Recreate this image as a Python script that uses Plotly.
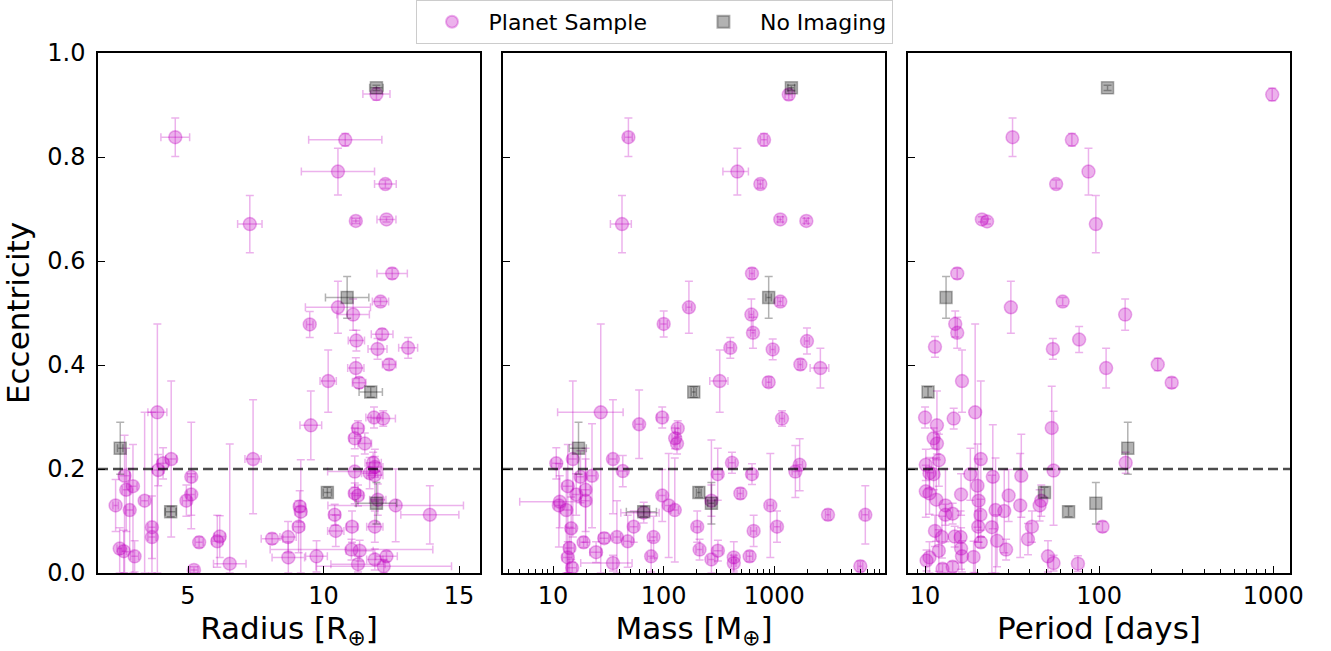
import plotly.graph_objects as go

# ---------------- Radius panel: Planet Sample ----------------
rad_vals = [11.95, 4.53, 10.80, 10.53, 12.28, 7.28, 11.19, 12.32, 12.53, 10.53,
            12.10, 11.09, 9.49, 12.16, 11.21, 11.99, 13.12, 12.42, 11.19, 10.17,
            11.31, 3.87, 11.86, 12.20, 9.53, 11.27, 11.15, 11.52, 2.66, 4.38,
            4.08, 3.90, 7.40, 5.12, 11.83, 11.89, 11.15, 11.70, 11.89, 2.97,
            2.72, 2.85, 2.33, 3.40, 5.12, 4.94, 11.15, 11.27, 12.00, 12.66,
            13.92, 9.12, 9.16, 10.41, 9.08, 11.05, 11.89, 10.45, 3.67, 3.67,
            5.41, 6.08, 6.17, 8.10, 8.69, 2.48, 2.63, 3.03, 11.03, 11.33,
            8.70, 9.74, 12.32, 6.54, 11.27, 11.89, 12.22, 5.22]
rad_errs = [0.5, 0.53, 1.35, 1.35, 0.40, 0.45, 0.15, 0.35, 0.56, 1.20,
            0.30, 0.60, 0.12, 0.40, 0.30, 0.35, 0.35, 0.25, 0.30, 0.30,
            0.25, 0.35, 0.30, 0.45, 0.40, 0.20, 0.20, 0.25, 0.20, 0.20,
            0.20, 0.20, 0.30, 0.15, 0.30, 0.30, 1.00, 0.30, 0.30, 0.15,
            0.15, 0.15, 0.10, 0.15, 0.15, 0.15, 0.20, 0.20, 0.30, 2.50,
            1.07, 0.20, 0.20, 0.20, 0.20, 0.20, 0.30, 0.30, 0.15, 0.15,
            0.15, 0.20, 0.20, 0.40, 0.30, 0.10, 0.10, 0.15, 3.00, 0.50,
            0.60, 0.40, 0.40, 0.60, 1.00, 0.30, 2.50, 0.15]
rad_ecc = [0.921, 0.838, 0.833, 0.772, 0.748, 0.671, 0.677, 0.680, 0.576, 0.511,
           0.522, 0.497, 0.478, 0.459, 0.447, 0.431, 0.433, 0.401, 0.394, 0.369,
           0.366, 0.309, 0.299, 0.297, 0.284, 0.278, 0.259, 0.249, 0.187, 0.219,
           0.211, 0.198, 0.219, 0.185, 0.212, 0.204, 0.195, 0.192, 0.188, 0.167,
           0.160, 0.121, 0.130, 0.139, 0.151, 0.139, 0.153, 0.149, 0.141, 0.130,
           0.112, 0.128, 0.118, 0.112, 0.089, 0.089, 0.089, 0.081, 0.088, 0.069,
           0.059, 0.061, 0.070, 0.066, 0.069, 0.047, 0.042, 0.032, 0.045, 0.043,
           0.030, 0.032, 0.032, 0.018, 0.017, 0.026, 0.013, 0.006]
rad_ecc_lo = [0.012, 0.037, 0.012, 0.045, 0.008, 0.055, 0.005, 0.005, 0.010, 0.050,
              0.008, 0.030, 0.025, 0.010, 0.020, 0.020, 0.020, 0.010, 0.020, 0.060,
              0.010, 0.309, 0.020, 0.015, 0.066, 0.015, 0.020, 0.020, 0.187, 0.150,
              0.030, 0.030, 0.105, 0.100, 0.020, 0.020, 0.030, 0.030, 0.050, 0.167,
              0.080, 0.080, 0.050, 0.139, 0.040, 0.030, 0.020, 0.020, 0.030, 0.070,
              0.056, 0.030, 0.118, 0.020, 0.050, 0.030, 0.030, 0.030, 0.060, 0.069,
              0.010, 0.050, 0.040, 0.010, 0.030, 0.047, 0.042, 0.030, 0.020, 0.020,
              0.030, 0.030, 0.010, 0.018, 0.015, 0.020, 0.013, 0.006]
rad_ecc_hi = [0.012, 0.037, 0.012, 0.045, 0.008, 0.055, 0.005, 0.005, 0.010, 0.050,
              0.008, 0.030, 0.025, 0.010, 0.020, 0.020, 0.020, 0.010, 0.020, 0.060,
              0.010, 0.170, 0.020, 0.015, 0.066, 0.015, 0.020, 0.020, 0.078, 0.150,
              0.030, 0.030, 0.114, 0.105, 0.020, 0.020, 0.030, 0.030, 0.050, 0.080,
              0.080, 0.080, 0.050, 0.170, 0.040, 0.030, 0.020, 0.020, 0.030, 0.070,
              0.056, 0.030, 0.100, 0.020, 0.050, 0.030, 0.030, 0.030, 0.060, 0.240,
              0.010, 0.050, 0.040, 0.010, 0.030, 0.040, 0.040, 0.030, 0.020, 0.020,
              0.030, 0.030, 0.010, 0.230, 0.015, 0.020, 0.013, 0.006]

# ---------------- Mass panel: Planet Sample ----------------
mass_vals = [1350, 48, 807, 463, 747, 42, 1132, 1945, 628, 1132,
             169, 620, 100, 641, 1972, 400, 966, 1718, 2606, 321,
             889, 27, 1173, 97, 60, 134, 127, 132, 15.1, 34.8,
             10.7, 42.7, 414, 1694, 1549, 308, 628, 17.7, 22.5, 13.6,
             19.7, 16.2, 97, 493, 11.5, 11.3, 13.2, 19.7, 111, 126,
             270, 920, 66, 3055, 6640, 53.6, 201, 1057, 14.6, 650,
             29, 37.8, 47.3, 81, 18.9, 14.1, 24.5, 211, 309, 13.6,
             77, 270, 430, 430, 598, 34.8, 14.9, 5985]
mass_errs = [100, 4, 60, 120, 40, 9, 60, 80, 30, 60,
             10, 30, 8, 30, 100, 30, 50, 80, 500, 60,
             50, 16, 60, 10, 5, 8, 8, 8, 1.5, 3,
             1, 4, 30, 100, 100, 30, 60, 1.5, 2, 1.5,
             2, 1.5, 8, 30, 6.5, 1, 1.5, 2, 10, 10,
             30, 60, 25, 150, 500, 5, 15, 80, 1.5, 40,
             3, 3, 4, 6, 1.5, 1.5, 3, 15, 30, 1.5,
             6, 20, 20, 20, 40, 17, 1.5, 300]
mass_ecc = [0.920, 0.838, 0.833, 0.772, 0.748, 0.671, 0.680, 0.677, 0.576, 0.522,
            0.511, 0.497, 0.479, 0.462, 0.446, 0.433, 0.430, 0.401, 0.394, 0.369,
            0.367, 0.309, 0.297, 0.299, 0.286, 0.278, 0.259, 0.249, 0.219, 0.219,
            0.211, 0.196, 0.212, 0.208, 0.195, 0.190, 0.190, 0.185, 0.187, 0.167,
            0.160, 0.151, 0.149, 0.153, 0.137, 0.130, 0.121, 0.139, 0.130, 0.121,
            0.139, 0.130, 0.116, 0.112, 0.112, 0.089, 0.089, 0.089, 0.086, 0.081,
            0.067, 0.069, 0.061, 0.069, 0.059, 0.048, 0.040, 0.045, 0.043, 0.030,
            0.032, 0.026, 0.030, 0.019, 0.032, 0.019, 0.010, 0.013]
mass_ecc_lo = [0.010, 0.037, 0.012, 0.045, 0.008, 0.055, 0.005, 0.005, 0.010, 0.008,
               0.050, 0.030, 0.025, 0.030, 0.025, 0.020, 0.020, 0.010, 0.038, 0.060,
               0.010, 0.309, 0.015, 0.020, 0.066, 0.015, 0.020, 0.020, 0.150, 0.105,
               0.030, 0.030, 0.020, 0.050, 0.050, 0.050, 0.020, 0.050, 0.100, 0.167,
               0.080, 0.040, 0.050, 0.010, 0.050, 0.080, 0.121, 0.080, 0.100, 0.100,
               0.030, 0.100, 0.020, 0.010, 0.056, 0.030, 0.030, 0.030, 0.060, 0.030,
               0.010, 0.069, 0.050, 0.040, 0.010, 0.048, 0.020, 0.020, 0.020, 0.030,
               0.030, 0.026, 0.030, 0.015, 0.010, 0.015, 0.010, 0.010]
mass_ecc_hi = [0.010, 0.037, 0.012, 0.045, 0.008, 0.055, 0.005, 0.005, 0.010, 0.008,
               0.050, 0.030, 0.025, 0.030, 0.025, 0.020, 0.020, 0.010, 0.038, 0.060,
               0.010, 0.170, 0.015, 0.020, 0.066, 0.015, 0.020, 0.020, 0.150, 0.114,
               0.030, 0.030, 0.020, 0.050, 0.050, 0.050, 0.020, 0.050, 0.100, 0.080,
               0.080, 0.040, 0.050, 0.010, 0.050, 0.080, 0.080, 0.080, 0.100, 0.100,
               0.030, 0.100, 0.020, 0.010, 0.056, 0.030, 0.030, 0.030, 0.060, 0.030,
               0.010, 0.070, 0.050, 0.040, 0.010, 0.040, 0.020, 0.020, 0.020, 0.030,
               0.030, 0.230, 0.030, 0.015, 0.010, 0.015, 0.010, 0.010]

# ---------------- Period panel: Planet Sample ----------------
per_vals = [986, 31.8, 69.7, 86.8, 56.6, 95.7, 21.2, 22.7, 15.3, 61.7,
            31.1, 141, 14.9, 15.3, 76.7, 11.4, 54.2, 109.6, 217, 261,
            16.3, 10.0, 14.6, 19.4, 53.4, 11.7, 11.2, 11.7, 142, 12.0,
            20.9, 10.1, 10.6, 11.2, 18.2, 54.7, 24.5, 35.7, 20.0, 10.1,
            10.6, 16.1, 30.2, 20.3, 11.6, 13.1, 35.2, 45.5, 46.5, 25.4,
            28.5, 13.1, 14.4, 20.8, 104.5, 20.2, 24.2, 41.1, 11.4, 12.5,
            14.8, 16.0, 20.9, 39.0, 25.9, 16.1, 12.0, 10.6, 10.2, 19.0,
            29.2, 16.3, 50.8, 54.7, 75.5, 12.6, 14.4]
per_ecc = [0.920, 0.838, 0.833, 0.772, 0.748, 0.671, 0.680, 0.676, 0.576, 0.522,
           0.511, 0.497, 0.479, 0.462, 0.449, 0.435, 0.431, 0.394, 0.401, 0.366,
           0.369, 0.299, 0.297, 0.309, 0.279, 0.284, 0.259, 0.249, 0.212, 0.217,
           0.219, 0.208, 0.192, 0.190, 0.190, 0.197, 0.185, 0.187, 0.168, 0.157,
           0.153, 0.151, 0.149, 0.139, 0.141, 0.130, 0.130, 0.130, 0.139, 0.121,
           0.119, 0.112, 0.114, 0.112, 0.089, 0.089, 0.088, 0.089, 0.081, 0.069,
           0.070, 0.069, 0.059, 0.065, 0.062, 0.047, 0.043, 0.030, 0.024, 0.031,
           0.045, 0.032, 0.032, 0.019, 0.018, 0.008, 0.012]
per_ecc_lo = [0.012, 0.037, 0.012, 0.045, 0.008, 0.055, 0.005, 0.005, 0.010, 0.008,
              0.050, 0.030, 0.025, 0.030, 0.025, 0.020, 0.020, 0.038, 0.012, 0.010,
              0.060, 0.020, 0.020, 0.309, 0.080, 0.066, 0.020, 0.020, 0.020, 0.050,
              0.150, 0.030, 0.030, 0.030, 0.050, 0.105, 0.100, 0.080, 0.080, 0.050,
              0.040, 0.040, 0.050, 0.080, 0.080, 0.070, 0.100, 0.030, 0.030, 0.121,
              0.080, 0.020, 0.020, 0.030, 0.010, 0.030, 0.088, 0.030, 0.030, 0.040,
              0.020, 0.050, 0.010, 0.030, 0.050, 0.040, 0.040, 0.030, 0.020, 0.030,
              0.020, 0.030, 0.030, 0.015, 0.015, 0.008, 0.010]
per_ecc_hi = [0.012, 0.037, 0.012, 0.045, 0.008, 0.055, 0.005, 0.005, 0.010, 0.008,
              0.050, 0.030, 0.025, 0.030, 0.025, 0.020, 0.020, 0.038, 0.012, 0.010,
              0.060, 0.020, 0.020, 0.170, 0.080, 0.066, 0.020, 0.020, 0.020, 0.050,
              0.150, 0.030, 0.030, 0.030, 0.050, 0.114, 0.100, 0.080, 0.080, 0.050,
              0.040, 0.040, 0.050, 0.080, 0.080, 0.070, 0.100, 0.030, 0.030, 0.100,
              0.080, 0.020, 0.020, 0.030, 0.010, 0.030, 0.100, 0.030, 0.030, 0.040,
              0.020, 0.050, 0.010, 0.030, 0.050, 0.040, 0.040, 0.030, 0.020, 0.030,
              0.020, 0.030, 0.030, 0.015, 0.015, 0.010, 0.010]

# ---------------- No Imaging (shared eccentricities) ----------------
noimg_ecc = [0.933, 0.530, 0.348, 0.240, 0.118, 0.155, 0.134]
noimg_ecc_err = [0.005, 0.040, 0.010, 0.050, 0.010, 0.010, 0.040]
noimg_rad = [11.95, 10.87, 11.74, 2.50, 4.36, 10.14, 11.95]
noimg_rad_err = [0.25, 0.80, 0.43, 0.10, 0.20, 0.15, 0.75]
noimg_mass = [1426, 889, 187, 17, 66, 208, 270]
noimg_mass_err = [100, 50, 10, 3, 20, 10, 20]
noimg_per = [111.7, 13.2, 10.4, 146, 66.7, 48.5, 95.7]

series_names = ["Planet Sample", "No Imaging"]
ecc_cut = 0.2

# ---------------- styling ----------------
MAG = "rgba(191,0,191,0.3)"
GRY = "rgba(0,0,0,0.3)"
FONT = "DejaVu Sans"
PAD = "\u00a0" * 5  # legend spacing only

fig = go.Figure()


def add_panel(xa, ya, xs, xerr, ecc, elo, ehi, gx, gxerr, show):
    ex = dict(type="data", array=xerr, color=MAG, thickness=1.5, width=4, visible=True) if xerr is not None else None
    fig.add_trace(go.Scatter(
        x=xs, y=ecc, mode="markers", name=series_names[0] + PAD, showlegend=show,
        legendgroup="ps", xaxis=xa, yaxis=ya,
        marker=dict(symbol="circle", size=13, color=MAG, line=dict(color=MAG, width=1.5)),
        error_x=ex,
        error_y=dict(type="data", array=ehi, arrayminus=elo, color=MAG, thickness=1.5, width=4),
    ))
    gex = dict(type="data", array=gxerr, color=GRY, thickness=1.5, width=4) if gxerr is not None else None
    fig.add_trace(go.Scatter(
        x=gx, y=noimg_ecc, mode="markers", name=series_names[1], showlegend=show,
        legendgroup="ni", xaxis=xa, yaxis=ya,
        marker=dict(symbol="square", size=12, color=GRY, line=dict(color=GRY, width=1.5)),
        error_x=gex,
        error_y=dict(type="data", array=noimg_ecc_err, color=GRY, thickness=1.5, width=4),
    ))


add_panel("x", "y", rad_vals, rad_errs, rad_ecc, rad_ecc_lo, rad_ecc_hi, noimg_rad, noimg_rad_err, True)
add_panel("x2", "y2", mass_vals, mass_errs, mass_ecc, mass_ecc_lo, mass_ecc_hi, noimg_mass, noimg_mass_err, False)
add_panel("x3", "y3", per_vals, None, per_ecc, per_ecc_lo, per_ecc_hi, noimg_per, None, False)

W, H = 1331, 651
def px(a, b):
    return [a / W, b / W]

ydom = [1 - 573 / H, 1 - 53 / H]

axis_common = dict(showline=True, linecolor="black", linewidth=1.5, mirror=True,
                   ticks="inside", ticklen=7, tickwidth=1.3, tickcolor="black",
                   showgrid=False, zeroline=False,
                   tickfont=dict(family=FONT, size=24, color="black"),
                   automargin=False)

minor2 = [k * 10 ** d for d in range(0, 4) for k in range(2, 10) if 3.5 < k * 10 ** d < 10000]
minor3 = [k * 10 ** d for d in range(0, 4) for k in range(2, 10) if 7.9 < k * 10 ** d < 1250]

title_font = dict(family=FONT, size=31, color="black")

fig.update_layout(
    width=W, height=H,
    margin=dict(l=0, r=0, t=0, b=0),
    plot_bgcolor="white", paper_bgcolor="white",
    font=dict(family=FONT, color="black"),
    xaxis=dict(domain=px(98, 480), range=[1.68, 15.77], tickvals=[5, 10, 15], anchor="y",
               title=dict(text="Radius [R<sub>⊕</sub>]", font=title_font, standoff=4), **axis_common),
    xaxis2=dict(domain=px(503, 885), type="log", range=[0.548, 4.0], tickvals=[10, 100, 1000],
                ticktext=["10", "100", "1000"], anchor="y2",
                minor=dict(ticks="inside", ticklen=4, tickcolor="black", tickvals=minor2, showgrid=False),
                title=dict(text="Mass [M<sub>⊕</sub>]", font=title_font, standoff=4), **axis_common),
    xaxis3=dict(domain=px(908, 1290), type="log", range=[0.902, 3.096], tickvals=[10, 100, 1000],
                ticktext=["10", "100", "1000"], anchor="y3",
                minor=dict(ticks="inside", ticklen=4, tickcolor="black", tickvals=minor3, showgrid=False),
                title=dict(text="Period [days]", font=title_font, standoff=4), **axis_common),
    yaxis=dict(domain=ydom, range=[0, 1], tickvals=[0, 0.2, 0.4, 0.6, 0.8, 1.0], tickformat=".1f",
               anchor="x", ticklabelstandoff=6,
               title=dict(text="Eccentricity", font=title_font, standoff=14), **axis_common),
    yaxis2=dict(domain=ydom, range=[0, 1], tickvals=[0, 0.2, 0.4, 0.6, 0.8, 1.0], showticklabels=False,
                anchor="x2", **axis_common),
    yaxis3=dict(domain=ydom, range=[0, 1], tickvals=[0, 0.2, 0.4, 0.6, 0.8, 1.0], showticklabels=False,
                anchor="x3", **axis_common),
    legend=dict(orientation="h", x=654 / W, xanchor="center", y=1.0, yanchor="top",
                bordercolor="#cccccc", borderwidth=1, bgcolor="white",
                font=dict(family=FONT, size=22, color="black"),
                itemwidth=63, itemsizing="constant"),
)

for xr in ["x", "x2", "x3"]:
    fig.add_shape(type="line", xref=f"{xr} domain", yref=xr.replace("x", "y"),
                  x0=0, x1=1, y0=ecc_cut, y1=ecc_cut,
                  line=dict(color="rgba(0,0,0,0.7)", width=2.5, dash="10px,5px"))

fig.write_html("out.html", config={"displayModeBar": False},
               post_script="document.body.style.margin='0';document.body.style.overflow='hidden';")
